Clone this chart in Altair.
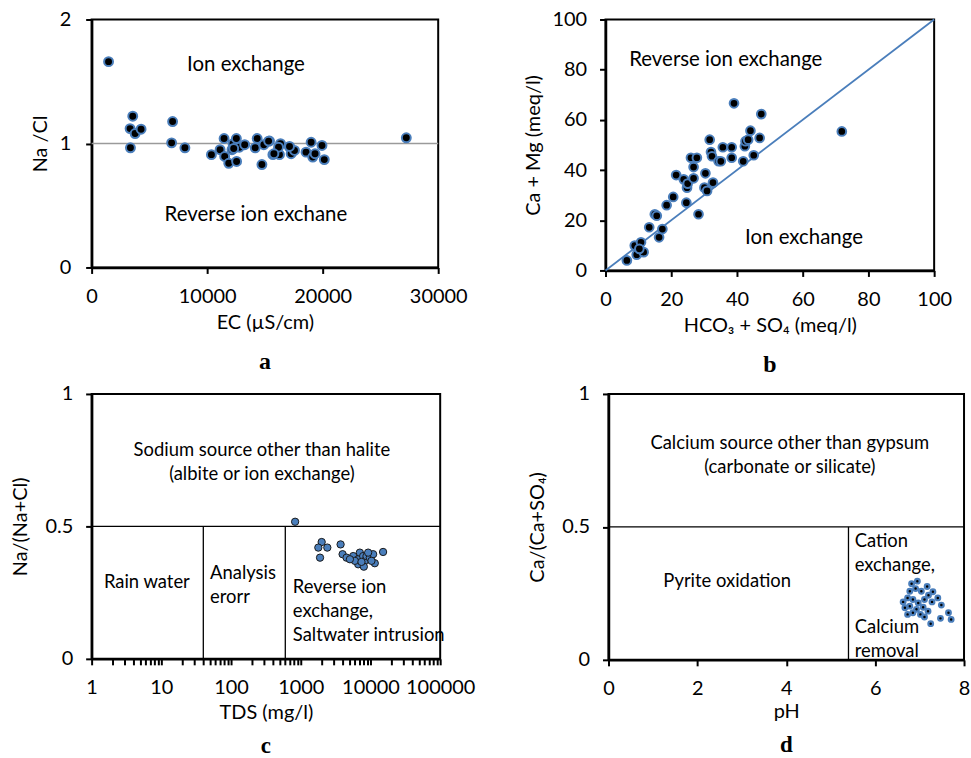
import altair as alt
import pandas as pd

FONT = "Lato"
SERIF = "Liberation Serif"
BLUE = "#4a7ebb"
FS_TEXT = 20.5      # notes in the upper panels
FS_TEXT_LOW = 18.5  # notes in the lower panels
FS_TICK = 20
FS_TITLE = 20

# ---------------- panel a: Na/Cl against EC ----------------
ec = [1466, 3560, 3330, 3765, 4280, 3360, 7010, 6925, 8075, 10370, 11120,
      11465, 11520, 11870, 12240, 12150, 12530, 12550, 12790, 13250, 14160,
      14330, 14740, 14910, 15400, 15690, 16260, 16350, 16180, 17130, 17270,
      17560, 18560, 19000, 19140, 19340, 19940, 20140, 27240, 12300, 15780,
      17130, 15320]
na_cl = [1.66, 1.22, 1.12, 1.08, 1.115, 0.965, 1.177, 1.005, 0.965, 0.91,
         0.95, 1.04, 0.895, 0.84, 0.998, 0.95, 1.04, 0.855, 0.97, 0.99,
         0.965, 1.04, 0.83, 0.99, 1.02, 0.91, 0.91, 0.998, 0.97, 0.97,
         0.917, 0.944, 0.93, 1.01, 0.89, 0.917, 0.984, 0.87, 1.046, 0.96,
         0.917, 0.976, 1.019]

# ---------------- panel b: Ca+Mg against HCO3+SO4 ----------------
hco3_so4 = [6.5, 8.9, 9.5, 10.8, 11.6, 10.3, 13.3, 16.3, 17.3, 15.0, 15.6,
            18.6, 20.6, 21.5, 24.6, 23.8, 24.8, 25.0, 26.0, 27.8, 26.8, 26.8,
            28.3, 30.4, 30.1, 30.9, 31.7, 32.1, 32.4, 32.7, 34.4, 35.1, 35.7,
            38.4, 38.4, 39.1, 41.9, 42.4, 42.6, 43.4, 44.1, 45.1, 46.9, 47.4,
            71.9]
ca_mg = [4.0, 9.9, 6.3, 11.2, 7.3, 8.6, 17.2, 13.2, 16.5, 22.4, 21.8, 26.0,
         29.3, 38.0, 27.0, 36.3, 33.0, 34.6, 44.9, 44.9, 41.2, 36.7, 22.4,
         38.7, 33.0, 31.7, 52.1, 47.2, 45.5, 35.0, 43.5, 43.5, 49.1, 49.1,
         44.9, 66.6, 43.5, 49.5, 51.5, 52.1, 55.7, 45.9, 52.8, 62.3, 55.4]

# ---------------- panel c: Na/(Na+Cl) against TDS ----------------
tds = [830, 1995, 1786, 2404, 1890, 3727, 3981, 4540, 5650, 6670, 7040, 7860,
       8300, 8770, 6670, 8030, 9780, 10920, 11530, 9260, 5970, 7430, 10330,
       5070, 15170]
na_nacl = [0.5175, 0.441, 0.42, 0.42, 0.382, 0.432, 0.395, 0.382, 0.388,
           0.376, 0.401, 0.388, 0.37, 0.388, 0.357, 0.348, 0.382, 0.395,
           0.361, 0.401, 0.37, 0.366, 0.37, 0.376, 0.4035]

# ---------------- panel d: Ca/(Ca+SO4) against pH ----------------
ph = [6.95, 6.82, 6.91, 7.17, 6.78, 7.04, 7.30, 7.20, 6.73, 7.41, 6.85, 7.11,
      6.63, 6.97, 7.28, 7.49, 6.78, 7.08, 6.93, 6.73, 6.85, 7.02, 7.65, 7.11,
      7.47, 7.71, 7.25, 6.67, 7.19]
ca_caso4 = [0.296, 0.286, 0.268, 0.276, 0.258, 0.258, 0.256, 0.243, 0.233,
            0.233, 0.227, 0.227, 0.218, 0.214, 0.218, 0.206, 0.202, 0.198,
            0.19, 0.171, 0.177, 0.171, 0.177, 0.161, 0.156, 0.152, 0.136,
            0.196, 0.183]

TDS_TICKS = [m * d for d in [1, 10, 100, 1000, 10000] for m in range(1, 10)] + [100000]


def ax(**kw):
    base = dict(grid=False, domainColor="black", domainWidth=2.5,
                tickColor="black", tickWidth=2, tickSize=6,
                labelFont=FONT, labelFontSize=FS_TICK, labelColor="black",
                labelPadding=13, labelFlush=False, format="~r",
                titleFont=FONT, titleFontSize=FS_TITLE,
                titleFontWeight="normal", titleColor="black")
    base.update(kw)
    return alt.Axis(**base)


def letter(t, offset=18, size=24):
    return alt.TitleParams(t, orient="bottom", font=SERIF, fontSize=size,
                           fontWeight="bold", color="black", anchor="middle",
                           offset=offset)


def notes(df, xf, yf, align="center", size=FS_TEXT):
    # the anchor is the first line; further lines run downward
    return alt.Chart(df).mark_text(font=FONT, fontSize=size, color="black",
                                   align=align, baseline="middle",
                                   lineBreak="\n", lineHeight=24).encode(
        x=xf, y=yf, text="label:N")


# ---- a ----
xa = alt.X("ec:Q", scale=alt.Scale(domain=[0, 30000], nice=False),
           axis=ax(values=[0, 10000, 20000, 30000], format="d",
                   title="EC (µS/cm)", titlePadding=6))
ya = alt.Y("r:Q", scale=alt.Scale(domain=[0, 2], nice=False),
           axis=ax(values=[0, 1, 2], title="Na /Cl", titlePadding=9,
                   labelPadding=15))
df_a = pd.DataFrame({"ec": ec, "r": na_cl})
line_a = alt.Chart(pd.DataFrame({"r": [1]})).mark_rule(
    color="#9a9a9a", strokeWidth=1.5).encode(y=ya)
pts_a = alt.Chart(df_a).mark_circle(size=80, color="black", opacity=1,
                                     stroke=BLUE, strokeWidth=2).encode(x=xa, y=ya)
ann_a = pd.DataFrame({"ec": [13360, 14220], "r": [1.63, 0.42],
                      "label": ["Ion exchange", "Reverse ion exchane"]})
chart_a = alt.layer(line_a, pts_a, notes(ann_a, "ec:Q", "r:Q")).properties(
    width=348, height=249, title=letter("a"))

# ---- b ----
xb = alt.X("s:Q", scale=alt.Scale(domain=[0, 100], nice=False),
           axis=ax(values=[0, 20, 40, 60, 80, 100], format="d",
                   title="HCO₃ + SO₄ (meq/l)", titlePadding=6))
yb = alt.Y("c:Q", scale=alt.Scale(domain=[0, 100], nice=False),
           axis=ax(values=[0, 20, 40, 60, 80, 100], format="d",
                   title="Ca + Mg (meq/l)", titlePadding=8))
df_b = pd.DataFrame({"s": hco3_so4, "c": ca_mg})
line_b = alt.Chart(pd.DataFrame({"s": [0, 100], "c": [0, 100]})).mark_line(
    color=BLUE, strokeWidth=1.8).encode(x=xb, y=yb)
pts_b = alt.Chart(df_b).mark_circle(size=76, color="black", opacity=1,
                                     stroke=BLUE, strokeWidth=2).encode(x=xb, y=yb)
ann_b = pd.DataFrame({"s": [36.6, 60.4], "c": [83.7, 13.1],
                      "label": ["Reverse ion exchange", "Ion exchange"]})
chart_b = alt.layer(line_b, pts_b, notes(ann_b, "s:Q", "c:Q")).properties(
    width=330, height=252, title=letter("b"))

# ---- c ----
xc = alt.X("t:Q", scale=alt.Scale(type="log", domain=[1, 100000], nice=False),
           axis=ax(values=TDS_TICKS, labelOverlap=False,
                   labelExpr="indexof([1,10,100,1000,10000,100000], datum.value) >= 0 ? format(datum.value, 'd') : ''",
                   title="TDS (mg/l)", titlePadding=5))
yc = alt.Y("n:Q", scale=alt.Scale(domain=[0, 1], nice=False),
           axis=ax(values=[0, 0.5, 1], title="Na/(Na+Cl)", titlePadding=14))
df_c = pd.DataFrame({"t": tds, "n": na_nacl})
hline_c = alt.Chart(pd.DataFrame({"n": [0.5]})).mark_rule(
    color="black", strokeWidth=1.3).encode(y=yc)
vline_c = alt.Chart(pd.DataFrame({"t": [40, 600], "n": [0, 0], "n2": [0.5, 0.5]})).mark_rule(
    color="black", strokeWidth=1.3).encode(x=xc, y=yc, y2="n2:Q")
pts_c = alt.Chart(df_c).mark_circle(size=54, color=BLUE, opacity=1,
                                     stroke="#1a1a1a", strokeWidth=1).encode(x=xc, y=yc)
ann_c_mid = pd.DataFrame({"t": [277], "n": [0.787],
                          "label": ["Sodium source other than halite\n(albite or ion exchange)"]})
ann_c_left = pd.DataFrame({"t": [1.5, 50, 769], "n": [0.289, 0.323, 0.271],
                           "label": ["Rain water", "Analysis\nerorr",
                                     "Reverse ion\nexchange,\nSaltwater intrusion"]})
chart_c = alt.layer(hline_c, vline_c, pts_c,
                    notes(ann_c_mid, "t:Q", "n:Q", size=FS_TEXT_LOW),
                    notes(ann_c_left, "t:Q", "n:Q", align="left",
                          size=FS_TEXT_LOW)).properties(
    width=350, height=266, title=letter("c", 13, 23))

# ---- d ----
xd = alt.X("p:Q", scale=alt.Scale(domain=[0, 8], nice=False),
           axis=ax(values=[0, 2, 4, 6, 8], title="pH", titlePadding=3))
yd = alt.Y("q:Q", scale=alt.Scale(domain=[0, 1], nice=False),
           axis=ax(values=[0, 0.5, 1], title="Ca/(Ca+SO₄)", titlePadding=14))
df_d = pd.DataFrame({"p": ph, "q": ca_caso4})
hline_d = alt.Chart(pd.DataFrame({"q": [0.5]})).mark_rule(
    color="black", strokeWidth=1.3).encode(y=yd)
vline_d = alt.Chart(pd.DataFrame({"p": [5.4], "q": [0], "q2": [0.5]})).mark_rule(
    color="black", strokeWidth=1.3).encode(x=xd, y=yd, y2="q2:Q")
pts_d = alt.Chart(df_d).mark_circle(size=22, color="black", opacity=1,
                                     stroke=BLUE, strokeWidth=2.2).encode(x=xd, y=yd)
ann_d_mid = pd.DataFrame({"p": [4.08, 2.67], "q": [0.816, 0.296],
                          "label": ["Calcium source other than gypsum\n(carbonate or silicate)",
                                    "Pyrite oxidation"]})
ann_d_left = pd.DataFrame({"p": [5.54, 5.54], "q": [0.446, 0.124],
                           "label": ["Cation\nexchange,", "Calcium\nremoval"]})
chart_d = alt.layer(hline_d, vline_d, pts_d,
                    notes(ann_d_mid, "p:Q", "q:Q", size=FS_TEXT_LOW),
                    notes(ann_d_left, "p:Q", "q:Q", align="left",
                          size=FS_TEXT_LOW)).properties(
    width=357, height=267, title=letter("d", 13, 23))

top = alt.hconcat(chart_a, chart_b, spacing=55)
bottom = alt.hconcat(chart_c, chart_d, spacing=51)
chart = alt.vconcat(top, bottom, spacing=5).properties(
    padding={"left": 10, "top": 7, "right": 0, "bottom": 0},
    background="white",
).configure_view(stroke="black", strokeWidth=2)

chart.save("out.html", embed_options={"renderer": "svg", "actions": False})
